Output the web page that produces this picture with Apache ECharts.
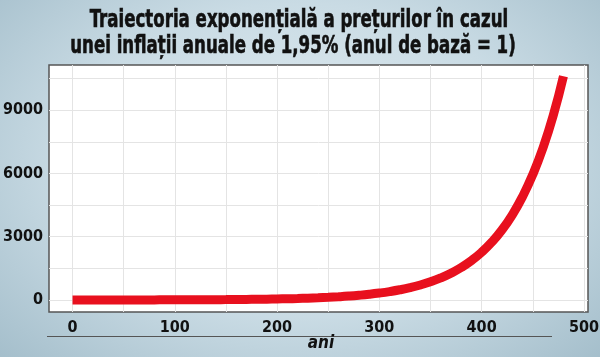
<!DOCTYPE html>
<html>
<head>
<meta charset="utf-8">
<script src="https://cdn.jsdelivr.net/npm/echarts@6/dist/echarts.min.js"></script>
<style>
html,body{margin:0;padding:0;}
body{width:600px;height:357px;background:radial-gradient(ellipse 70% 80% at 50% 45%, #e3edf2 0%, #c9dbe4 55%, #a4becb 100%);}
#c{width:600px;height:357px;}
</style>
</head>
<body>
<div id="c"></div>
<script>
// Values
const years = [0,10,20,30,40,50,60,70,80,90,100,110,120,130,140,150,160,170,180,190,200,210,220,230,240,250,260,270,280,290,300,310,320,330,340,350,360,370,380,390,400,410,420,430,440,450,460,470,480];
const prices = [1,1.2,1.5,1.8,2.2,2.6,3.2,3.9,4.7,5.7,6.9,8.4,10,12,15,18,22,27,32,39,48,58,70,85,103,125,152,184,223,270,328,398,483,585,710,862,1045,1268,1538,1866,2263,2745,3330,4040,4900,5945,7210,8745,10610];
const xTicks = [0,100,200,300,400,500];
const yTicks = [0,3000,6000,9000];
const xGrid = [0,50,100,150,200,250,300,350,400,450,500];
const yGrid = [0,1500,3000,4500,6000,7500,9000,10500];
const titleLines = ['Traiectoria exponențială a prețurilor în cazul', 'unei inflații anuale de 1,95% (anul de bază = 1)'];

const FONT = '"Liberation Sans Narrow","DejaVu Sans Condensed","Roboto Condensed","Liberation Sans",sans-serif';

const chart = echarts.init(document.getElementById('c'), null, {renderer:'canvas'});
const gridLines = [];
xGrid.forEach(v => gridLines.push({xAxis: v}));
yGrid.forEach(v => gridLines.push({yAxis: v}));

const titleStyle = {fontFamily: FONT, fontWeight: 'bold', fontSize: 24, fill: '#111', stroke: '#111', lineWidth: 0.6, textAlign: 'center', textVerticalAlign: 'middle'};

chart.setOption({
  backgroundColor: 'transparent',
  animation: false,
  grid: {left: 49, right: 12, top: 65, bottom: 45, containLabel: false, outerBoundsMode: 'none',
    show: true, backgroundColor: '#ffffff', borderColor: '#555', borderWidth: 1.5},
  xAxis: {
    type: 'value', min: -23, max: 504,
    axisLine: {show: false},
    splitLine: {show: false},
    axisTick: {show: true, customValues: xTicks, length: 3, lineStyle: {color: '#444'}},
    axisLabel: {customValues: xTicks, margin: 8, formatter: v => String(v), fontFamily: FONT, fontWeight: 'bold', fontSize: 16, color: '#111'}
  },
  yAxis: {
    type: 'value', min: -570, max: 11140,
    axisLine: {show: false},
    splitLine: {show: false},
    axisTick: {show: true, customValues: yTicks, length: 3, lineStyle: {color: '#444'}},
    axisLabel: {customValues: yTicks, margin: 6, formatter: v => String(v), fontFamily: FONT, fontWeight: 'bold', fontSize: 16, color: '#111'}
  },
  graphic: [
    {type: 'text', x: 299, y: 21, scaleX: 0.77, style: Object.assign({text: titleLines[0]}, titleStyle)},
    {type: 'text', x: 293, y: 47, scaleX: 0.77, style: Object.assign({text: titleLines[1]}, titleStyle)},
    {type: 'line', shape: {x1: 47, y1: 336.5, x2: 552, y2: 336.5}, style: {stroke: '#555', lineWidth: 1}},
    {type: 'text', x: 321, y: 344, style: {text: 'ani', fontFamily: FONT, fontWeight: 'bold', fontStyle: 'italic', fontSize: 17, fill: '#111', textAlign: 'center', textVerticalAlign: 'middle'}}
  ],
  series: [
    {
      type: 'line', data: [], z: 1, silent: true,
      markLine: {z: 1, silent: true, symbol: 'none', label: {show: false}, animation: false,
        lineStyle: {color: '#e4e4e4', width: 1, type: 'solid'}, data: gridLines}
    },
    {
      type: 'line', z: 3, smooth: true, showSymbol: false, symbol: 'none',
      data: years.map((y, i) => [y, prices[i]]),
      lineStyle: {color: '#e8101e', width: 9, cap: 'butt'}
    }
  ]
});
</script>
</body>
</html>
